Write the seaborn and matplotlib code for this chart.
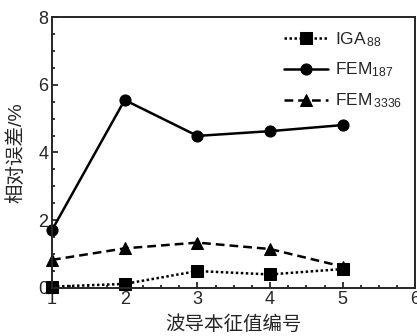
import numpy as np
import pandas as pd
import matplotlib
matplotlib.use("Agg")
import matplotlib.pyplot as plt
from matplotlib.ticker import MultipleLocator
import seaborn as sns

# 波导本征值编号 vs 相对误差
modes = [1, 2, 3, 4, 5]
iga_88 = [0.04, 0.12, 0.50, 0.40, 0.56]
fem_187 = [1.71, 5.55, 4.49, 4.63, 4.81]
fem_3336 = [0.83, 1.17, 1.34, 1.15, 0.63]

labels = [r'IGA$_{\,88}$', r'FEM$_{187}$', r'FEM$_{\,3336}$']

sns.set_style("ticks")
plt.rcParams['font.family'] = ['Liberation Sans', 'Noto Sans CJK SC', 'DejaVu Sans']
plt.rcParams['mathtext.fontset'] = 'custom'
plt.rcParams['mathtext.rm'] = 'Liberation Sans'
plt.rcParams['mathtext.it'] = 'Liberation Sans'
plt.rcParams['mathtext.default'] = 'regular'

df = pd.DataFrame({'mode': modes * 3,
                   'err': iga_88 + fem_187 + fem_3336,
                   'series': [labels[0]] * 5 + [labels[1]] * 5 + [labels[2]] * 5})

fig = plt.figure(figsize=(4.17, 3.36), dpi=100)
ax = fig.add_axes([0.1247, 0.1429, 0.8717, 0.8065])

sns.lineplot(data=df, x='mode', y='err', style='series', hue='series',
             palette=['black'] * 3,
             dashes={labels[0]: (1, 1), labels[1]: '', labels[2]: (3.5, 2)},
             markers={labels[0]: 's', labels[1]: 'o', labels[2]: '^'},
             markersize=8, markeredgecolor='black', linewidth=1.8,
             ax=ax, clip_on=False, legend=True)

ax.set_xlim(1, 6)
ax.set_ylim(0, 8)
ax.xaxis.set_major_locator(MultipleLocator(1))
ax.xaxis.set_minor_locator(MultipleLocator(0.25))
ax.yaxis.set_major_locator(MultipleLocator(2))
ax.yaxis.set_minor_locator(MultipleLocator(0.5))
ax.tick_params(which='both', direction='in', top=False, right=False, labelsize=13, width=1.3)
ax.tick_params(which='major', length=4.5, pad=2.5)
ax.tick_params(which='minor', length=2.5)
for s in ax.spines.values():
    s.set_linewidth(1.4)
    s.set_visible(True)

ax.set_xlabel('波导本征值编号', fontsize=14, labelpad=5)
ax.set_ylabel('相对误差/%', fontsize=14, labelpad=9)

leg = ax.legend(loc='upper right', bbox_to_anchor=(1.005, 1.01), frameon=False,
                fontsize=12.5, handlelength=2.5, handletextpad=0.4, labelspacing=0.7)

fig.savefig('out.png', dpi=100)
